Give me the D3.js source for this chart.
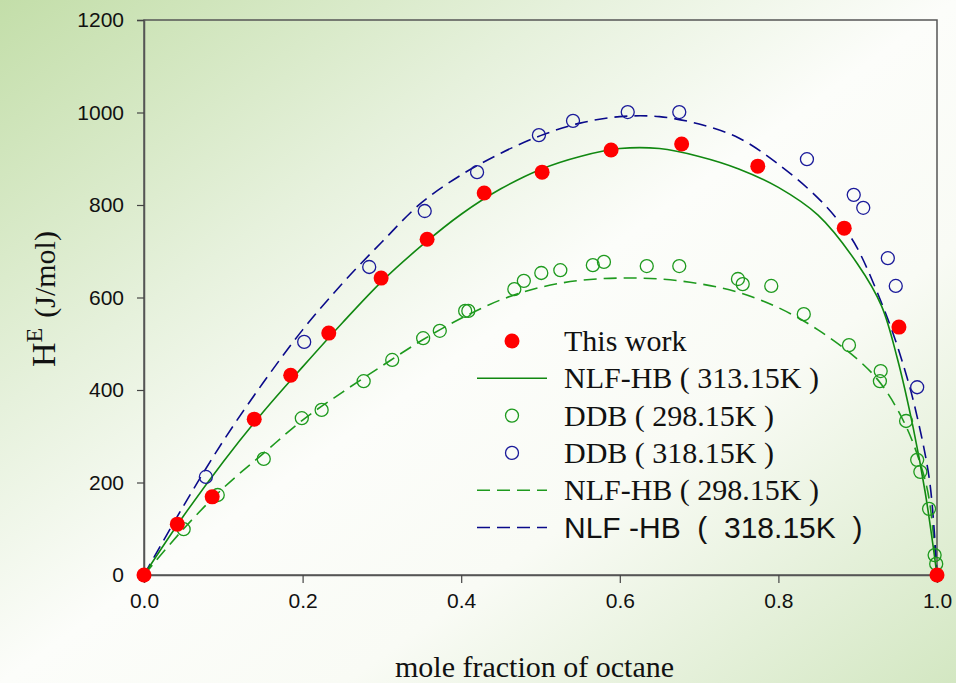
<!DOCTYPE html>
<html>
<head>
<meta charset="utf-8">
<script src="https://cdn.jsdelivr.net/npm/d3@7"></script>
<style>
  body { margin: 0; overflow: hidden; }
  .tick text { font-family: "Liberation Sans", Arial, sans-serif; font-size: 21px; fill: #111; }
  .serif { font-family: "Liberation Serif", "Times New Roman", serif; fill: #111; }
</style>
</head>
<body>
<div id="wrapper"></div>
<script>
// This work, 313.15 K (filled red)
const workX = [0, 0.042, 0.086, 0.139, 0.185, 0.233, 0.299, 0.357, 0.429, 0.502, 0.589, 0.678, 0.774, 0.883, 0.952, 1.0];
const workY = [0, 110, 169, 337, 432, 523, 642, 726, 826, 871, 919, 932, 884, 750, 536, 0];

// DDB 298.15 K (open green)
const ddb298X = [0.050, 0.093, 0.151, 0.199, 0.224, 0.277, 0.313, 0.352, 0.373, 0.405, 0.409, 0.467, 0.479, 0.501,
  0.525, 0.566, 0.580, 0.634, 0.675, 0.749, 0.755, 0.791, 0.832, 0.889, 0.929, 0.928, 0.961, 0.975, 0.979, 0.990,
  0.997, 0.999];
const ddb298Y = [99, 173, 251, 339, 357, 419, 465, 512, 528, 571, 571, 618, 636, 653,
  659, 670, 677, 668, 668, 640, 629, 625, 564, 497, 441, 419, 333, 249, 223, 143,
  43, 24];

// DDB 318.15 K (open blue)
const ddb318X = [0.078, 0.202, 0.284, 0.354, 0.420, 0.498, 0.541, 0.610, 0.675, 0.836, 0.895, 0.907, 0.938, 0.948, 0.975];
const ddb318Y = [212, 504, 666, 787, 871, 951, 982, 1001, 1001, 899, 822, 794, 685, 625, 406];

// NLF-HB model curves
const fit313X = [0, 0.05, 0.1, 0.15, 0.2, 0.25, 0.3, 0.35, 0.4, 0.45, 0.5, 0.55, 0.6, 0.65, 0.7, 0.75, 0.8, 0.85, 0.9, 0.93, 0.95, 0.97, 0.985, 1.0];
const fit313Y = [0, 128, 245, 352, 450, 545, 635, 712, 780, 835, 877, 905, 922, 922, 905, 878, 838, 778, 672, 582, 468, 318, 180, 0];

const fit298X = [0, 0.05, 0.1, 0.15, 0.2, 0.25, 0.3, 0.35, 0.4, 0.45, 0.5, 0.55, 0.6, 0.65, 0.7, 0.75, 0.8, 0.85, 0.9, 0.93, 0.96, 0.98, 0.99, 1.0];
const fit298Y = [0, 100, 188, 262, 335, 395, 452, 507, 555, 595, 622, 637, 642, 640, 630, 611, 578, 530, 466, 412, 325, 235, 165, 0];

const fit318X = [0, 0.05, 0.1, 0.15, 0.2, 0.25, 0.3, 0.35, 0.4, 0.45, 0.5, 0.55, 0.6, 0.65, 0.7, 0.75, 0.8, 0.85, 0.883, 0.9, 0.937, 0.96, 0.975, 0.991, 1.0];
const fit318Y = [0, 150, 290, 415, 530, 630, 720, 805, 865, 912, 950, 977, 991, 991, 975, 945, 888, 815, 750, 705, 558, 440, 342, 199, 0];

const xTicks = [0, 0.2, 0.4, 0.6, 0.8, 1.0];
const yTicks = [0, 200, 400, 600, 800, 1000, 1200];

const legendLabels = ["This work", "NLF-HB ( 313.15K )", "DDB ( 298.15K )", "DDB ( 318.15K )", "NLF-HB ( 298.15K )", "NLF -HB  (  318.15K  )"];

async function drawChart() {
  const zip = (xs, ys) => xs.map((x, i) => [x, ys[i]]);

  let dimensions = {
    width: 956,
    height: 683,
    margin: { top: 20, right: 19, bottom: 108, left: 144 },
  };
  dimensions.boundedWidth = dimensions.width - dimensions.margin.left - dimensions.margin.right;
  dimensions.boundedHeight = dimensions.height - dimensions.margin.top - dimensions.margin.bottom;

  const wrapper = d3.select("#wrapper")
    .append("svg")
      .attr("width", dimensions.width)
      .attr("height", dimensions.height);

  // soft green background, green at two corners
  const defs = wrapper.append("defs");
  const bg = defs.append("linearGradient")
      .attr("id", "bg")
      .attr("x1", 0).attr("y1", 0).attr("x2", 1).attr("y2", 1);
  [["0%", "#c3dea9"], ["30%", "#e6f1dc"], ["50%", "#fcfdfa"], ["68%", "#f9fbf5"], ["100%", "#d3e7c2"]]
    .forEach(([o, c]) => bg.append("stop").attr("offset", o).attr("stop-color", c));
  wrapper.append("rect")
      .attr("width", dimensions.width)
      .attr("height", dimensions.height)
      .attr("fill", "url(#bg)");

  const bounds = wrapper.append("g")
      .attr("transform", `translate(${dimensions.margin.left}, ${dimensions.margin.top})`);

  const xScale = d3.scaleLinear().domain([0, 1]).range([0, dimensions.boundedWidth]);
  const yScale = d3.scaleLinear().domain([0, 1200]).range([dimensions.boundedHeight, 0]);

  // frame
  bounds.append("rect")
      .attr("width", dimensions.boundedWidth)
      .attr("height", dimensions.boundedHeight)
      .attr("fill", "none")
      .attr("stroke", "#555")
      .attr("stroke-width", 1.5);

  const xAxis = bounds.append("g")
      .attr("transform", `translate(0, ${dimensions.boundedHeight})`)
      .call(d3.axisBottom(xScale).tickValues(xTicks).tickFormat(d3.format(".1f")).tickSize(8).tickPadding(10));
  const yAxis = bounds.append("g")
      .call(d3.axisLeft(yScale).tickValues(yTicks).tickFormat(d3.format("d")).tickSize(7).tickPadding(13));
  [xAxis, yAxis].forEach(a => {
    a.select(".domain").attr("stroke", "#555").attr("stroke-width", 1.5);
    a.selectAll(".tick line").attr("stroke", "#444").attr("stroke-width", 1.2);
  });

  // model curves
  const lineGen = d3.line()
      .x(d => xScale(d[0]))
      .y(d => yScale(d[1]))
      .curve(d3.curveCatmullRom.alpha(0.5));
  const curves = [
    { data: zip(fit298X, fit298Y), color: "#1e9a1e", dash: "13,7" },
    { data: zip(fit318X, fit318Y), color: "#0a0a8a", dash: "13,7" },
    { data: zip(fit313X, fit313Y), color: "#118811", dash: null },
  ];
  bounds.selectAll(".curve")
    .data(curves)
    .join("path")
      .attr("class", "curve")
      .attr("d", d => lineGen(d.data))
      .attr("fill", "none")
      .attr("stroke", d => d.color)
      .attr("stroke-width", 1.6)
      .attr("stroke-dasharray", d => d.dash);

  // open circles
  const openSets = [
    { data: zip(ddb298X, ddb298Y), color: "#1e9a1e" },
    { data: zip(ddb318X, ddb318Y), color: "#1a1a9a" },
  ];
  openSets.forEach(s => {
    bounds.append("g").selectAll("circle")
      .data(s.data)
      .join("circle")
        .attr("cx", d => xScale(d[0]))
        .attr("cy", d => yScale(d[1]))
        .attr("r", 6.5)
        .attr("fill", "none")
        .attr("stroke", s.color)
        .attr("stroke-width", 1.3);
  });

  bounds.append("g").selectAll("circle")
    .data(zip(workX, workY))
    .join("circle")
      .attr("cx", d => xScale(d[0]))
      .attr("cy", d => yScale(d[1]))
      .attr("r", 7.5)
      .attr("fill", "#ff0000");

  // legend
  const legend = wrapper.append("g").attr("transform", "translate(477, 341)");
  const rowGap = 37.3;
  const kinds = [
    { type: "dot", color: "#ff0000" },
    { type: "line", color: "#118811", dash: null },
    { type: "ring", color: "#1e9a1e" },
    { type: "ring", color: "#1a1a9a" },
    { type: "line", color: "#1e9a1e", dash: "13,7" },
    { type: "line", color: "#0a0a8a", dash: "13,7" },
  ];
  kinds.forEach((k, i) => {
    const y = i * rowGap;
    if (k.type == "line") {
      legend.append("line")
          .attr("x1", 0).attr("x2", 70).attr("y1", y).attr("y2", y)
          .attr("stroke", k.color).attr("stroke-width", 1.6)
          .attr("stroke-dasharray", k.dash);
    } else {
      legend.append("circle")
          .attr("cx", 35).attr("cy", y)
          .attr("r", k.type == "dot" ? 7.5 : 6.5)
          .attr("fill", k.type == "dot" ? k.color : "none")
          .attr("stroke", k.type == "dot" ? "none" : k.color)
          .attr("stroke-width", 1.3);
    }
    legend.append("text")
        .attr("class", i == 5 ? null : "serif")
        .attr("x", 87)
        .attr("y", y + 10)
        .style("white-space", "pre")
        .style("font-family", i == 5 ? "'Liberation Sans', Arial, sans-serif" : null)
        .style("font-size", "30px")
        .style("fill", "#111")
        .text(legendLabels[i]);
  });

  // axis titles
  wrapper.append("text")
      .attr("class", "serif")
      .attr("x", dimensions.margin.left + dimensions.boundedWidth / 2 - 6)
      .attr("y", 677)
      .attr("text-anchor", "middle")
      .style("font-size", "30px")
      .text("mole fraction of octane");

  const yTitle = wrapper.append("text")
      .attr("class", "serif")
      .attr("transform", "translate(55, 367) rotate(-90)");
  yTitle.append("tspan").style("font-size", "34px").text("H");
  yTitle.append("tspan").style("font-size", "24px").attr("dy", -13).text("E");
  yTitle.append("tspan").style("font-size", "30px").attr("dy", 13).attr("dx", 10).text("(J/mol)");
}
drawChart();
</script>
</body>
</html>
